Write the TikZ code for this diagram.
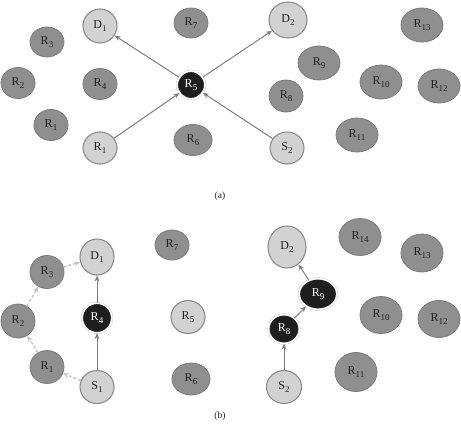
\documentclass[tikz,border=0pt]{standalone}
\usepackage{fontspec}
\setmainfont{Liberation Serif}
\usetikzlibrary{shapes.geometric,arrows.meta}
\definecolor{relayfill}{HTML}{8F8F8F}
\definecolor{relaydraw}{HTML}{7A7A7A}
\definecolor{lightfill}{HTML}{D2D2D2}
\definecolor{lightdraw}{HTML}{8C8C8C}
\definecolor{blackfill}{HTML}{1E1E1E}
\definecolor{arrowcol}{HTML}{7E7E7E}
\definecolor{dashcol}{HTML}{C2C2C2}
\definecolor{txtcol}{HTML}{222222}
\newcommand{\nm}[2]{#1\raisebox{-0.45ex}{\fontsize{9}{9}\selectfont #2}}
\tikzset{
  sz/.style 2 args={minimum width=#1pt, minimum height=#2pt},
  base/.style={ellipse, inner sep=0pt, font=\fontsize{12}{12}\selectfont},
  relay/.style={base, fill=relayfill, draw=relaydraw, line width=0.8pt, text=txtcol},
  light/.style={base, fill=lightfill, draw=lightdraw, line width=1.1pt, text=txtcol},
  dark/.style={base, fill=blackfill, draw=gray!45, double=white, double distance=1.4pt, line width=0.4pt, text=white},
  link/.style={draw=arrowcol, line width=1pt, -{Stealth[length=6pt,width=5pt]}},
  dlink/.style={draw=dashcol, line width=1.4pt, dash pattern=on 3pt off 2pt, -{Stealth[length=6pt,width=5pt]}},
  captext/.style={font=\fontsize{9.5}{9.5}\selectfont, text=txtcol}
}
\begin{document}
\begin{tikzpicture}[x=1pt,y=-1pt]
\useasboundingbox (0,0) rectangle (461,426);
% ---------- (a) ----------
\node[light, sz={34}{34}] (aD1) at (100,26) {\nm{D}{1}};
\node[relay, sz={34}{30}] (aR7) at (191,23) {\nm{R}{7}};
\node[relay, sz={34}{30}] (aR3) at (47,42) {\nm{R}{3}};
\node[relay, sz={34}{31}] (aR2) at (18,83) {\nm{R}{2}};
\node[relay, sz={34}{31}] (aR4) at (100,84) {\nm{R}{4}};
\node[dark, sz={28}{28}] (aR5) at (191,85) {\nm{R}{5}};
\node[relay, sz={34}{31}] (aR1) at (51,125) {\nm{R}{1}};
\node[light, sz={34}{32}] (aS1) at (100,148) {\nm{R}{1}};
\node[relay, sz={38}{31}] (aR6) at (193,140) {\nm{R}{6}};
\node[light, sz={38}{36}] (aD2) at (288,20) {\nm{D}{2}};
\node[relay, sz={42}{34}] (aR13) at (422,25) {\nm{R}{13}};
\node[relay, sz={42}{34}] (aR9) at (319,63) {\nm{R}{9}};
\node[relay, sz={34}{32}] (aR8) at (286,96) {\nm{R}{8}};
\node[relay, sz={42}{34}] (aR10) at (381,82) {\nm{R}{10}};
\node[relay, sz={42}{34}] (aR12) at (439,86) {\nm{R}{12}};
\node[relay, sz={42}{34}] (aR11) at (357,135) {\nm{R}{11}};
\node[light, sz={34}{32}] (aS2) at (287,148) {\nm{S}{2}};
\draw[link] (aS1) -- (aR5);
\draw[link] (aS2) -- (aR5);
\draw[link] (aR5) -- (aD1);
\draw[link] (aR5) -- (aD2);
\node[captext] (capa) at (220,196) {(a)};
% ---------- (b) ----------
\node[light, sz={34}{36}] (bD1) at (97,257) {\nm{D}{1}};
\node[relay, sz={34}{30}] (bR7) at (172,245) {\nm{R}{7}};
\node[relay, sz={34}{33}] (bR3) at (47,272) {\nm{R}{3}};
\node[relay, sz={34}{34}] (bR2) at (18,321) {\nm{R}{2}};
\node[dark, sz={30}{30}] (bR4) at (97,318) {\nm{R}{4}};
\node[light, sz={34}{33}] (bR5) at (188,317) {\nm{R}{5}};
\node[relay, sz={34}{33}] (bR1) at (47,367) {\nm{R}{1}};
\node[light, sz={34}{33}] (bS1) at (97,387) {\nm{S}{1}};
\node[relay, sz={38}{32}] (bR6) at (191,379) {\nm{R}{6}};
\node[light, sz={38}{42}] (bD2) at (287,247) {\nm{D}{2}};
\node[relay, sz={42}{37}] (bR14) at (360,237) {\nm{R}{14}};
\node[relay, sz={42}{38}] (bR13) at (422,253) {\nm{R}{13}};
\node[dark, sz={38}{31}] (bR9) at (318,294) {\nm{R}{9}};
\node[relay, sz={42}{37}] (bR10) at (381,315) {\nm{R}{10}};
\node[relay, sz={42}{37}] (bR12) at (439,319) {\nm{R}{12}};
\node[dark, sz={31}{29}] (bR8) at (284,329) {\nm{R}{8}};
\node[relay, sz={42}{39}] (bR11) at (356,372) {\nm{R}{11}};
\node[light, sz={35}{33}] (bS2) at (284,387) {\nm{S}{2}};
\draw[link] (bS1) -- (bR4);
\draw[link] (bR4) -- (bD1);
\draw[link] (bS2) -- (bR8);
\draw[link] (bR8) -- (bR9);
\draw[link] (bR9) -- (bD2);
\draw[dlink] (bS1) -- (bR1);
\draw[dlink] (bR1) -- (bR2);
\draw[dlink] (bR2) -- (bR3);
\draw[dlink] (bR3) -- (bD1);
\node[captext] (capb) at (220,416) {(b)};
\end{tikzpicture}
\end{document}
